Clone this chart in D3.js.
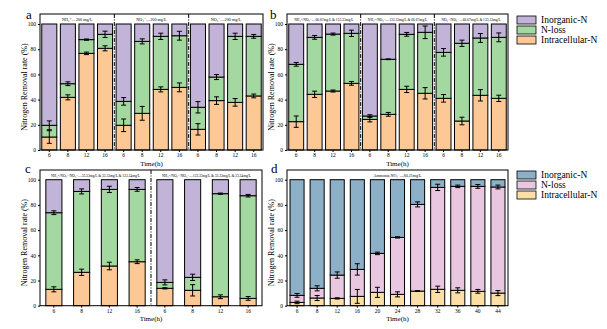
<!DOCTYPE html>
<html><head><meta charset="utf-8">
<script src="https://cdn.jsdelivr.net/npm/d3@7"></script>
<style>
body{margin:0;background:#fff}
svg{display:block}
text{font-family:"Liberation Serif","DejaVu Serif",serif;fill:#000}
</style>
</head><body>
<svg id="chart" width="607" height="329"></svg>
<script>
// Sampling times (h)
const timesABC = [6, 8, 12, 16];
const timesD = [6, 8, 12, 16, 20, 24, 28, 32, 36, 40, 44];
const yTicks = [0, 20, 40, 60, 80, 100];
const seriesNames = ["Inorganic-N", "N-loss", "Intracellular-N"];

// Panel a: single nitrogen sources
const aTitles = ["NH\u2084\u207A\u2014200 mg/L", "NO\u2082\u207B\u2014200 mg/L", "NO\u2083\u207B\u2014200 mg/L"];
const aIntra = [10.3, 41.8, 76.7, 80.7, 19.6, 29.1, 48.1, 49.7, 16.4, 39.2, 37.8, 42.9];
const aLoss  = [9.3, 10.8, 10.9, 11.1, 19.0, 57.1, 42.1, 41.0, 17.5, 18.7, 52.4, 47.3];
const aInorg = [80.4, 47.4, 12.4, 8.2, 61.4, 13.8, 9.8, 9.3, 66.1, 42.1, 9.8, 9.8];
const aIntraErr = [5.0, 2.0, 1.0, 2.0, 5.0, 5.5, 2.0, 3.5, 4.5, 3.0, 3.0, 1.5];
const aLossErr  = [3.5, 1.5, 0.5, 2.5, 3.0, 2.0, 2.5, 3.5, 4.5, 2.0, 2.5, 1.5];

// Panel b: binary nitrogen sources
const bTitles = ["NH\u2084\u207A/NO\u2082\u207B\u201466.67mg/L & 133.33mg/L",
                 "NH\u2084\u207A/NO\u2083\u207B\u2014133.33mg/L & 66.67mg/L",
                 "NO\u2082\u207B/NO\u2083\u207B\u201466.67mg/L & 133.33mg/L"];
const bIntra = [22.5, 44.2, 46.8, 52.9, 24.3, 28.3, 48.1, 45.0, 41.0, 23.0, 43.4, 41.0];
const bLoss  = [45.5, 45.2, 45.2, 39.7, 2.7, 43.7, 43.7, 48.4, 36.5, 61.7, 45.5, 48.4];
const bInorg = [32.0, 10.6, 8.0, 7.4, 73.0, 28.0, 8.2, 6.6, 22.5, 15.3, 11.1, 10.6];
const bIntraErr = [4.5, 2.5, 0.8, 1.5, 2.0, 1.5, 2.5, 4.5, 3.0, 3.0, 4.5, 2.5];
const bLossErr  = [1.5, 1.5, 0.8, 2.5, 1.0, 0.3, 1.5, 5.0, 3.0, 2.5, 3.5, 3.5];

// Panel c: ternary nitrogen sources
const cTitles = ["NH\u2084\u207A/NO\u2082\u207B/NO\u2083\u207B\u201433.33mg/L & 33.33mg/L & 133.34mg/L",
                 "NH\u2084\u207A/NO\u2082\u207B/NO\u2083\u207B\u2014133.33mg/L & 33.33mg/L & 33.34mg/L"];
const cIntra = [13.0, 26.5, 31.5, 34.9, 13.8, 12.2, 7.1, 5.8];
const cLoss  = [60.8, 64.2, 60.8, 57.4, 4.7, 10.3, 81.8, 81.5];
const cInorg = [26.2, 9.3, 7.7, 7.7, 81.5, 77.5, 11.1, 12.7];
const cIntraErr = [2.0, 2.5, 3.0, 1.5, 0.5, 4.5, 1.5, 1.5];
const cLossErr  = [1.5, 2.0, 2.5, 1.5, 2.0, 2.5, 0.5, 1.0];

// Panel d: ammonia-rich wastewater time course
const dTitles = ["Ammonia NO\u2083\u207B\u201460.21mg/L"];
const dIntra = [2.6, 6.1, 5.8, 7.4, 10.6, 9.0, 11.6, 13.0, 12.2, 11.4, 10.0];
const dLoss  = [5.6, 7.7, 18.5, 21.4, 30.9, 45.2, 68.8, 80.9, 82.5, 83.3, 84.2];
const dInorg = [91.8, 86.2, 75.7, 71.2, 58.5, 45.8, 19.6, 6.1, 5.3, 5.3, 5.8];
const dIntraErr = [1.0, 2.0, 0.5, 5.5, 4.0, 2.0, 0.3, 2.5, 2.0, 1.5, 2.0];
const dLossErr  = [1.5, 2.0, 2.5, 4.5, 1.0, 0.5, 2.0, 2.5, 1.0, 1.5, 1.5];

const paletteABC = {intra: "#fcc896", loss: "#a3d8a1", inorg: "#c2b4d9"};
const paletteD   = {intra: "#fcdea7", loss: "#e9c7e1", inorg: "#8cb0c8"};

const svg = d3.select("#chart");
svg.append("rect").attr("width", 607).attr("height", 329).attr("fill", "#fff");

function drawPanel(p) {
  const g = svg.append("g");
  const n = p.intra.length;
  const cats = d3.range(n);
  const x = d3.scaleBand().domain(cats).range([p.x0, p.x1])
    .paddingInner(p.pad).paddingOuter(p.pad / 2);
  const y = d3.scaleLinear().domain([0, 100]).range([p.y0, p.y100]);

  const rows = cats.map(i => ({
    i, intra: p.intra[i], loss: p.loss[i], inorg: p.inorg[i]
  }));
  const stack = d3.stack().keys(["intra", "loss", "inorg"])(rows);

  stack.forEach(layer => {
    g.append("g").selectAll("rect").data(layer).join("rect")
      .attr("x", d => x(d.data.i))
      .attr("width", x.bandwidth())
      .attr("y", d => y(d[1]))
      .attr("height", d => y(d[0]) - y(d[1]))
      .attr("fill", p.colors[layer.key])
      .attr("stroke", "#000").attr("stroke-width", 1);
  });

  // error bars at the top of the intracellular and N-loss segments
  const errs = [];
  cats.forEach(i => {
    errs.push({i, v: p.intra[i], e: p.intraErr[i]});
    errs.push({i, v: p.intra[i] + p.loss[i], e: p.lossErr[i]});
  });
  const eg = g.append("g").attr("stroke", "#000").attr("stroke-width", 1);
  errs.forEach(d => {
    const cx = x(d.i) + x.bandwidth() / 2;
    const yl = y(d.v - d.e), yh = y(d.v + d.e);
    eg.append("line").attr("x1", cx).attr("x2", cx).attr("y1", yl).attr("y2", yh);
    eg.append("line").attr("x1", cx - 2.5).attr("x2", cx + 2.5).attr("y1", yl).attr("y2", yl);
    eg.append("line").attr("x1", cx - 2.5).attr("x2", cx + 2.5).attr("y1", yh).attr("y2", yh);
  });

  // frame
  g.append("rect").attr("x", p.x0).attr("y", p.yTop)
    .attr("width", p.x1 - p.x0).attr("height", p.y0 - p.yTop)
    .attr("fill", "none").attr("stroke", "#000").attr("stroke-width", 1);

  // group separators and subtitles
  const groupSize = n / p.titles.length;
  p.titles.forEach((t, k) => {
    const gx0 = x(k * groupSize) - x.step() * x.paddingInner() / 2;
    const gx1 = x((k + 1) * groupSize - 1) + x.bandwidth() + x.step() * x.paddingInner() / 2;
    if (k > 0) {
      g.append("line").attr("x1", gx0).attr("x2", gx0)
        .attr("y1", p.yTop).attr("y2", p.y0)
        .attr("stroke", "#000").attr("stroke-width", 1)
        .attr("stroke-dasharray", "4,1.5,1,1.5");
    }
    g.append("text").attr("x", (gx0 + gx1) / 2).attr("y", p.yTop + 6.5)
      .attr("text-anchor", "middle").attr("font-size", p.titleSize || 4.2).text(t);
  });

  // y axis
  const ya = g.append("g").attr("transform", `translate(${p.x0},0)`)
    .call(d3.axisLeft(y).tickValues(yTicks).tickSize(2).tickPadding(2));
  ya.select(".domain").remove();
  ya.selectAll("text").attr("font-size", 5.5).attr("font-family", "Liberation Serif");

  // x axis
  const xa = g.append("g").attr("transform", `translate(0,${p.y0})`)
    .call(d3.axisBottom(x).tickSize(2).tickPadding(1).tickFormat(i => p.labels[i]));
  xa.select(".domain").remove();
  xa.selectAll("text").attr("font-size", 5.5).attr("font-family", "Liberation Serif");

  g.append("text").attr("x", (p.x0 + p.x1) / 2).attr("y", p.y0 + 15.5)
    .attr("text-anchor", "middle").attr("font-size", 7).text("Time(h)");

  g.append("text")
    .attr("transform", `translate(${p.x0 - 13},${(p.y0 + p.y100) / 2}) rotate(-90)`)
    .attr("text-anchor", "middle").attr("font-size", 8).text("Nitrogen Removal rate (%)");

  g.append("text").attr("x", p.lx).attr("y", p.ly)
    .attr("font-size", 13).attr("font-family", "Liberation Sans").text(p.letter);

  if (p.legend) {
    const keys = ["inorg", "loss", "intra"];
    keys.forEach((k, j) => {
      const ly = p.legend[1] + j * 10;
      g.append("rect").attr("x", p.legend[0]).attr("y", ly).attr("width", 19).attr("height", 8)
        .attr("fill", p.colors[k]).attr("stroke", "#000").attr("stroke-width", 0.8);
      g.append("text").attr("x", p.legend[0] + 24).attr("y", ly + 7.2)
        .attr("font-size", 9.5).text(seriesNames[j]);
    });
  }
}

const labels12 = d3.range(12).map(i => timesABC[i % 4]);
const labels8 = d3.range(8).map(i => timesABC[i % 4]);

drawPanel({letter: "a", lx: 26, ly: 19, x0: 40, x1: 263, yTop: 14, y100: 24, y0: 150, pad: 0.19,
  intra: aIntra, loss: aLoss, inorg: aInorg, intraErr: aIntraErr, lossErr: aLossErr,
  titles: aTitles, labels: labels12, colors: paletteABC});

drawPanel({letter: "b", lx: 270, ly: 19, x0: 287, x1: 508, yTop: 14, y100: 24, y0: 150, pad: 0.19,
  intra: bIntra, loss: bLoss, inorg: bInorg, intraErr: bIntraErr, lossErr: bLossErr,
  titles: bTitles, labels: labels12, colors: paletteABC, legend: [517, 16], titleSize: 3.6});

drawPanel({letter: "c", lx: 25, ly: 173, x0: 40, x1: 262, yTop: 170, y100: 179.7, y0: 305.7, pad: 0.42,
  intra: cIntra, loss: cLoss, inorg: cInorg, intraErr: cIntraErr, lossErr: cLossErr,
  titles: cTitles, labels: labels8, colors: paletteABC, titleSize: 3.6});

drawPanel({letter: "d", lx: 271, ly: 173, x0: 287, x1: 508, yTop: 170, y100: 179.7, y0: 305.7, pad: 0.3,
  intra: dIntra, loss: dLoss, inorg: dInorg, intraErr: dIntraErr, lossErr: dLossErr,
  titles: dTitles, labels: timesD, colors: paletteD, legend: [517, 171], titleSize: 4});
</script>
</body></html>
